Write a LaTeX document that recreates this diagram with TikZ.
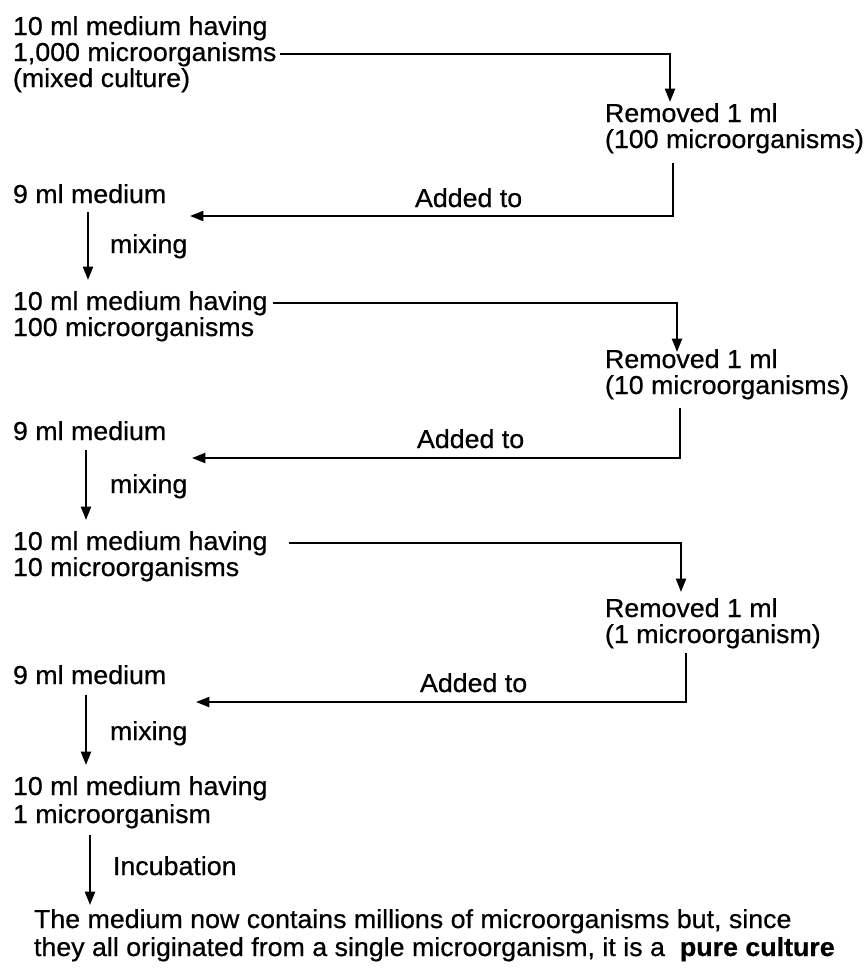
\documentclass[tikz,border=0pt]{standalone}
\usepackage{fontspec}
\setmainfont[FakeStretch=1.03,FakeBold=0.6]{Liberation Sans}
\usetikzlibrary{arrows.meta}
\begin{document}
\begin{tikzpicture}[x=0.75pt,y=-0.75pt,
  txt/.style={anchor=base west, inner sep=0pt, outer sep=0pt,
    font=\fontsize{19.5}{20}\selectfont},
  conn/.style={line width=1.5pt, -{Triangle[length=10pt,width=7.5pt]}}]
\useasboundingbox (0,0) rectangle (867,968);

% ---------- row 1 ----------
\node[txt] (a1) at (13,35) {10 ml medium having};
\node[txt] (a2) at (13,61) {1,000 microorganisms};
\node[txt] (a3) at (13,87) {(mixed culture)};
\node[txt] (r1a) at (605,122) {Removed 1 ml};
\node[txt] (r1b) at (605,148) {(100 microorganisms)};
\node[txt] (add1) at (415,207) {Added to};
\node[txt] (n1) at (13,203) {9 ml medium};
\node[txt] (mix1) at (110,253) {mixing};

\coordinate (t1) at (670,102);
\coordinate (v1) at (673,163);
\coordinate (h1) at (190,216);
\coordinate (m1s) at (88,212);
\coordinate (m1e) at (88,280);
\draw[conn] ([xshift=3pt]a2.east) -| (t1);
\draw[conn] (v1) |- (h1);
\draw[conn] (m1s) -- (m1e);

% ---------- row 2 ----------
\node[txt] (b1) at (13,310) {10 ml medium having};
\node[txt] (b2) at (13,336) {100 microorganisms};
\node[txt] (r2a) at (605,368) {Removed 1 ml};
\node[txt] (r2b) at (605,394) {(10 microorganisms)};
\node[txt] (add2) at (417,448) {Added to};
\node[txt] (n2) at (13,440) {9 ml medium};
\node[txt] (mix2) at (110,493) {mixing};

\coordinate (t2) at (677,352);
\coordinate (v2) at (680,408);
\coordinate (h2) at (192,458);
\coordinate (m2s) at (86,450);
\coordinate (m2e) at (86,520);
\draw[conn] ([xshift=4pt]b1.east) -| (t2);
\draw[conn] (v2) |- (h2);
\draw[conn] (m2s) -- (m2e);

% ---------- row 3 ----------
\node[txt] (c1) at (13,550) {10 ml medium having};
\node[txt] (c2) at (13,576) {10 microorganisms};
\node[txt] (r3a) at (605,617) {Removed 1 ml};
\node[txt] (r3b) at (605,643) {(1 microorganism)};
\node[txt] (add3) at (420,692) {Added to};
\node[txt] (n3) at (13,684) {9 ml medium};
\node[txt] (mix3) at (110,740) {mixing};

\coordinate (t3) at (681,592);
\coordinate (v3) at (686,653);
\coordinate (h3) at (196,702);
\coordinate (m3s) at (86,695);
\coordinate (m3e) at (86,765);
\draw[conn] ([xshift=16pt]c1.east) -| (t3);
\draw[conn] (v3) |- (h3);
\draw[conn] (m3s) -- (m3e);

% ---------- row 4 ----------
\node[txt] (d1) at (13,795) {10 ml medium having};
\node[txt] (d2) at (13,823) {1 microorganism};
\node[txt] (inc) at (113,875) {Incubation};
\coordinate (i1s) at (90,835);
\coordinate (i1e) at (90,905);
\draw[conn] (i1s) -- (i1e);

\node[txt] (f1) at (34,928) {The medium now contains millions of microorganisms but, since};
\node[txt] (f2) at (34,956) {they all originated from a single microorganism, it is a\ \ \textbf{pure culture}};
\end{tikzpicture}
\end{document}
